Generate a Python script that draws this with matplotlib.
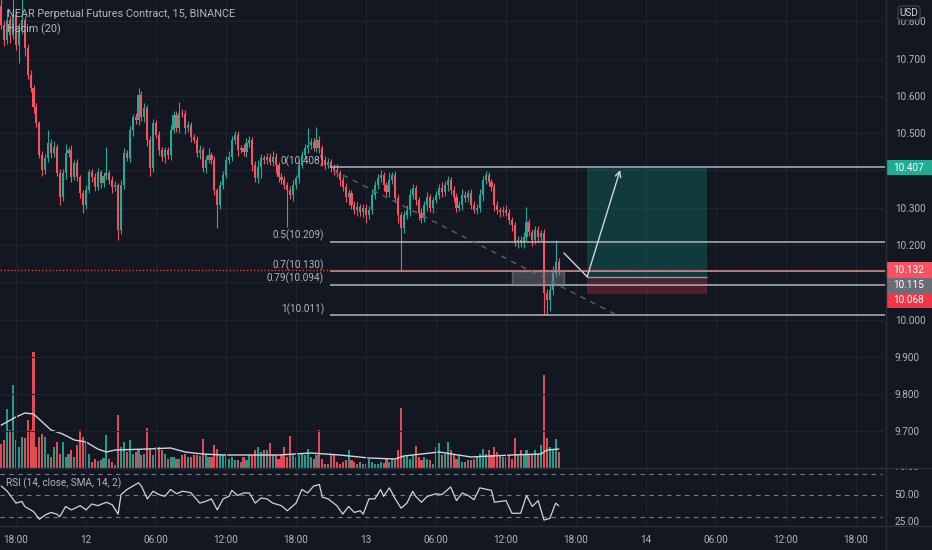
import matplotlib
matplotlib.use("Agg")
import matplotlib.pyplot as plt
from matplotlib.patches import Rectangle, FancyBboxPatch
from matplotlib.lines import Line2D
from matplotlib.transforms import blended_transform_factory
import numpy as np

plt.rcParams['font.family'] = ['Roboto', 'DejaVu Sans']

# 15 minute candles, index 0 = 11th 18:00
first_idx = -5
first_open = 10.84
closes = [
    10.790, 10.749, 10.803, 10.763, 10.816, 10.736, 10.776, 10.803, 10.728, 10.656, 10.621, 10.570, 10.527, 10.441, 10.401, 10.433,
    10.473, 10.446, 10.463, 10.393, 10.328, 10.393, 10.446, 10.454, 10.382, 10.420, 10.382, 10.339, 10.307, 10.347, 10.395, 10.382,
    10.355, 10.395, 10.366, 10.385, 10.393, 10.374, 10.355, 10.361, 10.240, 10.361, 10.446, 10.433, 10.508, 10.543, 10.535, 10.602,
    10.543, 10.567, 10.481, 10.406, 10.527, 10.495, 10.454, 10.436, 10.454, 10.441, 10.508, 10.548, 10.513, 10.554, 10.552, 10.513,
    10.521, 10.489, 10.481, 10.446, 10.454, 10.406, 10.428, 10.441, 10.428, 10.347, 10.307, 10.361, 10.387, 10.428, 10.436, 10.481,
    10.495, 10.454, 10.460, 10.449, 10.473, 10.481, 10.414, 10.379, 10.409, 10.433, 10.428, 10.436, 10.422, 10.436, 10.414, 10.382,
    10.374, 10.361, 10.347, 10.334, 10.361, 10.379, 10.414, 10.441, 10.460, 10.468, 10.476, 10.460, 10.481, 10.460, 10.428, 10.414,
    10.422, 10.406, 10.401, 10.393, 10.374, 10.355, 10.328, 10.339, 10.307, 10.294, 10.302, 10.288, 10.299, 10.280, 10.294, 10.334,
    10.361, 10.379, 10.387, 10.361, 10.342, 10.374, 10.387, 10.326, 10.280, 10.245, 10.280, 10.294, 10.334, 10.353, 10.320, 10.286,
    10.272, 10.307, 10.328, 10.299, 10.320, 10.334, 10.353, 10.342, 10.361, 10.374, 10.347, 10.328, 10.299, 10.307, 10.334, 10.326,
    10.339, 10.307, 10.294, 10.299, 10.334, 10.374, 10.387, 10.369, 10.355, 10.307, 10.294, 10.288, 10.294, 10.286, 10.267, 10.253,
    10.208, 10.213, 10.205, 10.221, 10.261, 10.235, 10.213, 10.240, 10.221, 10.232, 10.071, 10.052, 10.079, 10.125, 10.154, 10.132,
]
upper_wick = [
    0.02, 0.01, 0.03, 0.01, 0.08, 0.01, 0.02, 0.06, 0.01, 0.01, 0.012, 0.008, 0.01, 0.005, 0.01, 0.012,
    0.035, 0.01, 0.015, 0.008, 0.01, 0.012, 0.025, 0.01, 0.015, 0.008, 0.01, 0.006, 0.008, 0.015, 0.01, 0.008,
    0.01, 0.012, 0.006, 0.01, 0.07, 0.008, 0.01, 0.01, 0.006, 0.012, 0.015, 0.01, 0.012, 0.008, 0.01, 0.019,
    0.01, 0.015, 0.008, 0.01, 0.01, 0.008, 0.012, 0.01, 0.008, 0.01, 0.015, 0.012, 0.01, 0.03, 0.01, 0.01,
    0.012, 0.008, 0.01, 0.01, 0.015, 0.008, 0.012, 0.02, 0.008, 0.01, 0.006, 0.01, 0.012, 0.01, 0.015, 0.01,
    0.012, 0.01, 0.008, 0.01, 0.015, 0.012, 0.008, 0.01, 0.02, 0.01, 0.008, 0.012, 0.01, 0.015, 0.01, 0.008,
    0.01, 0.012, 0.008, 0.01, 0.012, 0.01, 0.015, 0.01, 0.012, 0.045, 0.01, 0.012, 0.035, 0.01, 0.008, 0.01,
    0.012, 0.008, 0.01, 0.015, 0.008, 0.01, 0.012, 0.01, 0.008, 0.01, 0.012, 0.008, 0.01, 0.012, 0.01, 0.015,
    0.01, 0.012, 0.015, 0.01, 0.008, 0.021, 0.01, 0.012, 0.01, 0.008, 0.01, 0.012, 0.015, 0.01, 0.008, 0.01,
    0.012, 0.01, 0.015, 0.008, 0.01, 0.012, 0.01, 0.015, 0.01, 0.012, 0.008, 0.01, 0.012, 0.01, 0.015, 0.01,
    0.008, 0.01, 0.012, 0.01, 0.015, 0.012, 0.012, 0.01, 0.008, 0.01, 0.012, 0.008, 0.01, 0.012, 0.01, 0.008,
    0.01, 0.012, 0.01, 0.015, 0.041, 0.01, 0.008, 0.012, 0.01, 0.008, 0.01, 0.012, 0.015, 0.02, 0.059, 0.01,
]
lower_wick = [
    0.01, 0.015, 0.01, 0.02, 0.01, 0.012, 0.048, 0.01, 0.02, 0.01, 0.012, 0.015, 0.01, 0.008, 0.015, 0.01,
    0.01, 0.012, 0.01, 0.008, 0.02, 0.01, 0.015, 0.01, 0.012, 0.008, 0.01, 0.012, 0.021, 0.01, 0.008, 0.012,
    0.01, 0.008, 0.012, 0.01, 0.008, 0.01, 0.015, 0.01, 0.027, 0.01, 0.012, 0.008, 0.01, 0.015, 0.01, 0.012,
    0.01, 0.012, 0.015, 0.02, 0.01, 0.008, 0.012, 0.01, 0.015, 0.01, 0.012, 0.008, 0.01, 0.012, 0.01, 0.015,
    0.01, 0.012, 0.008, 0.01, 0.015, 0.01, 0.012, 0.008, 0.01, 0.012, 0.062, 0.01, 0.012, 0.008, 0.01, 0.012,
    0.01, 0.015, 0.008, 0.01, 0.012, 0.01, 0.015, 0.01, 0.012, 0.03, 0.01, 0.012, 0.008, 0.01, 0.02, 0.012,
    0.01, 0.012, 0.10, 0.01, 0.015, 0.01, 0.012, 0.008, 0.01, 0.012, 0.01, 0.008, 0.01, 0.012, 0.015, 0.01,
    0.008, 0.01, 0.012, 0.01, 0.015, 0.01, 0.012, 0.02, 0.01, 0.012, 0.015, 0.01, 0.012, 0.02, 0.01, 0.012,
    0.01, 0.012, 0.01, 0.015, 0.01, 0.012, 0.01, 0.008, 0.02, 0.112, 0.012, 0.01, 0.015, 0.01, 0.012, 0.02,
    0.012, 0.01, 0.015, 0.01, 0.012, 0.008, 0.01, 0.012, 0.01, 0.015, 0.01, 0.012, 0.01, 0.008, 0.012, 0.01,
    0.012, 0.01, 0.008, 0.012, 0.01, 0.015, 0.01, 0.012, 0.01, 0.015, 0.01, 0.012, 0.01, 0.008, 0.012, 0.015,
    0.012, 0.015, 0.01, 0.012, 0.01, 0.012, 0.015, 0.01, 0.012, 0.01, 0.059, 0.04, 0.03, 0.012, 0.01, 0.012,
]
# volume in thousands
volume = [
    24, 28, 59, 38, 83, 28, 21, 31, 30, 48, 38, 116, 21, 31, 34, 31,
    14, 11, 21, 26, 14, 26, 11, 14, 18, 11, 23, 38, 31, 26, 14, 6,
    9, 7, 8, 10, 33, 9, 6, 3, 53, 21, 26, 16, 28, 14, 16, 18,
    13, 14, 40, 19, 13, 21, 21, 18, 14, 9, 11, 11, 9, 9, 13, 14,
    11, 11, 13, 13, 12, 29, 14, 11, 11, 23, 19, 14, 13, 14, 9, 11,
    8, 8, 6, 11, 8, 13, 13, 18, 21, 16, 18, 18, 25, 13, 13, 9,
    13, 21, 11, 32, 13, 11, 13, 14, 13, 19, 11, 9, 13, 38, 9, 4,
    4, 13, 13, 6, 4, 6, 8, 18, 8, 6, 4, 6, 4, 4, 9, 6,
    4, 4, 6, 5, 9, 6, 9, 8, 18, 60, 11, 13, 9, 13, 22, 11,
    8, 11, 9, 8, 4, 21, 25, 13, 14, 26, 18, 13, 9, 13, 6, 6,
    8, 8, 9, 11, 14, 19, 14, 18, 13, 21, 16, 13, 11, 11, 13, 9,
    30, 13, 18, 13, 18, 14, 13, 18, 14, 23, 93, 30, 21, 19, 29, 16,
]
# Hacim (20) average, read at some bars
vol_ma_idx = [-5, 0, 3, 6, 9, 12, 16, 20, 24, 28, 31, 34, 45, 53, 58, 64, 71, 90, 101,
              111, 121, 130, 133, 145, 156, 170, 180, 182, 186]
vol_ma = [43, 51, 55, 54, 46, 38, 34, 28, 26, 19, 16, 18, 19, 20, 16, 14, 13, 13, 15,
          13, 10, 9, 12, 16, 11, 13, 14, 18, 19]
# RSI (14)
rsi_idx = [-5, -3, 0, 2, 3, 6, 8, 10, 12, 14, 15, 17, 19, 22, 24, 26, 28, 31, 33, 35,
           36, 38, 40, 42, 43, 45, 47, 49, 51, 53, 55, 57, 59, 60, 63, 65, 67, 69, 71, 73,
           74, 76, 78, 80, 82, 84, 86, 88, 91, 93, 96, 98, 100, 102, 104, 105, 107, 110, 112, 114,
           116, 118, 119, 121, 123, 125, 126, 128, 130, 132, 134, 136, 137, 139, 141, 144, 146, 149, 151, 153,
           155, 157, 159, 163, 164, 168, 170, 173, 175, 177, 179, 181, 183, 185, 186]
rsi_val = [61, 55, 41, 43, 37, 31, 22, 27, 30, 28, 25, 37, 33, 38, 33, 40, 38, 42, 39, 28,
           51, 57, 61, 65, 61, 46, 55, 51, 49, 57, 52, 55, 54, 53, 41, 43, 46, 33, 46, 49,
           56, 50, 53, 53, 41, 47, 46, 41, 38, 32, 41, 57, 53, 61, 63, 48, 46, 38, 28, 37,
           30, 32, 28, 46, 46, 57, 49, 59, 46, 35, 41, 55, 49, 42, 49, 52, 51, 60, 44, 53,
           50, 45, 59, 56, 42, 44, 29, 29, 50, 37, 44, 21, 23, 41, 38]

time_ticks = [0, 24, 48, 72, 96, 120, 144, 168, 192, 216, 240, 264, 288]
time_labels = ['18:00', '12', '06:00', '12:00', '18:00', '13', '06:00', '12:00',
               '18:00', '14', '06:00', '12:00', '18:00']
price_ticks = [9.7, 9.8, 9.9, 10.0, 10.1, 10.2, 10.3, 10.4, 10.5, 10.6, 10.7, 10.8]
# labels hidden by the price tags
price_hidden = [10.1, 10.4]

# drawings
fib_names = ['0', '0.5', '0.7', '0.79', '1']
fib_prices = [10.408, 10.209, 10.130, 10.094, 10.011]
fib_start = 107.5
entry, target, stop = 10.115, 10.407, 10.068
pos_start, pos_end = 195.8, 236.9
zone_start, zone_end = 170.0, 187.9
zone_top, zone_bottom = 10.130, 10.094
trend_idx = [108.7, 206.0]
trend_price = [10.401, 10.012]
arrow_idx = [187.9, 195.8, 207.1]
arrow_price = [10.178, 10.115, 10.401]
last_price = 10.132
tag_text = ['10.407', '10.132', '10.115', '10.068']
tag_price = [10.407, 10.133, 10.092, 10.052]
tag_color = ['#22ab94', '#f7525f', '#6a6d78', '#f23645']

BG = '#131722'
GRID = '#1e222d'
TXT = '#b2b5be'
UP = '#22ab94'
DOWN = '#f7525f'
LINE = '#b2b5be'

W, H = 932, 550
XMIN, XMAX = -5.49, 297.9


def rect(x0, y0, x1, y1):
    return [x0 / W, 1 - y1 / H, (x1 - x0) / W, (y1 - y0) / H]


fig = plt.figure(figsize=(W / 100, H / 100), dpi=100, facecolor=BG)

idx = np.arange(first_idx, first_idx + len(closes))
closes = np.array(closes)
opens = np.r_[first_open, closes[:-1]]
highs = np.maximum(opens, closes) + np.array(upper_wick)
lows = np.minimum(opens, closes) - np.array(lower_wick)
colors = np.where(closes >= opens, UP, DOWN)

# volume pane (under the price pane)
axv = fig.add_axes(rect(0, 0, 885, 468), facecolor=BG)
axv.bar(idx, volume, width=0.72, color=colors, linewidth=0, alpha=0.9)
axv.plot(vol_ma_idx, vol_ma, color='#d1d4dc', lw=1)
axv.set_xlim(XMIN, XMAX)
axv.set_ylim(0, 468)
axv.axis('off')

# price pane
ax = fig.add_axes(rect(0, 0, 885, 468), facecolor='none')
ax.set_xlim(XMIN, XMAX)
ax.set_ylim(9.602, 10.857)
for s in ax.spines.values():
    s.set_visible(False)
ax.set_xticks(time_ticks)
ax.set_yticks(price_ticks)
ax.set_yticklabels(['' if p in price_hidden else f'{p:.3f}' for p in price_ticks])
ax.yaxis.tick_right()
ax.tick_params(axis='y', length=0, pad=7, labelsize=7.2, labelcolor=TXT)
ax.tick_params(axis='x', length=0, labelbottom=False)
ax.grid(True, color=GRID, lw=0.8)
ax.set_axisbelow(True)

ax.vlines(idx, lows, highs, colors=colors, lw=0.8, zorder=3)
ax.bar(idx, np.maximum(np.abs(closes - opens), 0.002), bottom=np.minimum(opens, closes),
       width=0.72, color=colors, linewidth=0, zorder=4)

# long position tool
ax.add_patch(Rectangle((pos_start, entry), pos_end - pos_start, target - entry,
                       facecolor='#089981', alpha=0.27, lw=0, zorder=1))
ax.add_patch(Rectangle((pos_start, stop), pos_end - pos_start, entry - stop,
                       facecolor='#f23645', alpha=0.27, lw=0, zorder=1))
ax.hlines(entry, pos_start, pos_end, color='#9598a1', lw=1, zorder=2)

# fib levels
ax.hlines(fib_prices, fib_start, XMAX, color=LINE, lw=1.1, zorder=5)
for name, p in zip(fib_names, fib_prices):
    ax.text(fib_start - 1.9, p + 0.016, f'{name}({p:.3f})', color=TXT, fontsize=7.2,
            ha='right', va='center', zorder=6)

# order block
ax.add_patch(Rectangle((zone_start, zone_bottom), zone_end - zone_start, zone_top - zone_bottom,
                       facecolor='#787b86', alpha=0.45, edgecolor='#9598a1', lw=1, zorder=5))

ax.plot(trend_idx, trend_price, color='#5d606b', lw=1, ls=(0, (4, 4)), zorder=5)
ax.plot(arrow_idx[:2], arrow_price[:2], color='#d1d4dc', lw=1, zorder=6)
ax.annotate('', xy=(arrow_idx[2], arrow_price[2]), xytext=(arrow_idx[1], arrow_price[1]),
            arrowprops=dict(arrowstyle='->', color='#d1d4dc', lw=1, shrinkA=0, shrinkB=0,
                            mutation_scale=10), zorder=6)
ax.axhline(last_price, color='#f23645', lw=1, ls=(0, (1, 1.5)), zorder=6)

# price tags on the right scale
tr = blended_transform_factory(ax.transAxes, ax.transData)
for t, p, c in zip(tag_text, tag_price, tag_color):
    ax.add_patch(Rectangle((1.001, p - 0.0202), 46 / 885, 0.0404, transform=tr,
                           facecolor=c, lw=0, clip_on=False, zorder=8))
    ax.text(1 + 23.5 / 885, p, t, transform=tr, color='white', fontsize=7.2,
            ha='center', va='center', clip_on=False, zorder=9)

# RSI pane
axr = fig.add_axes(rect(0, 468, 885, 525.5), facecolor=BG)
axr.set_xlim(XMIN, XMAX)
axr.set_ylim(14.6, 82.4)
for s in axr.spines.values():
    s.set_visible(False)
axr.set_xticks(time_ticks)
axr.set_xticklabels(time_labels)
axr.set_yticks([])
axr.tick_params(axis='x', length=0, pad=7, labelsize=7.2, labelcolor=TXT)
axr.grid(True, axis='x', color=GRID, lw=0.8)
axr.set_axisbelow(True)
for lvl in [25, 50, 75]:
    axr.axhline(lvl, color='#787b86', lw=0.8, ls=(0, (4, 4)), xmax=0.997)
axr.plot(rsi_idx, rsi_val, color='#d1d4dc', lw=0.9)
axr.text(6 / 885, 64.7, 'RSI (14, close, SMA, 14, 2)', transform=blended_transform_factory(axr.transAxes, axr.transData),
         color=TXT, fontsize=7.2, ha='left', va='center')

# RSI scale
axs = fig.add_axes(rect(886, 468, 932, 525.5), facecolor=BG)
axs.set_ylim(14.6, 82.4)
axs.set_xlim(0, 1)
axs.axis('off')
for v, lab in [(83.3, '75.00'), (50, '50.00'), (18.4, '25.00')]:
    axs.text(0.18, v, lab, color=TXT, fontsize=7.2, ha='left', va='center', clip_on=True)

# separators
for (x0, y0, x1, y1) in [(0, 468, W, 468), (0, 525.5, W, 525.5), (885.5, 0, 885.5, H)]:
    fig.add_artist(Line2D([x0 / W, x1 / W], [1 - y0 / H, 1 - y1 / H], transform=fig.transFigure,
                          color='#2a2e39', lw=1))

# USD box
fig.add_artist(FancyBboxPatch((898 / W, 1 - 20 / H), 22 / W, 14 / H,
                              boxstyle='round,pad=0,rounding_size=0.004', transform=fig.transFigure,
                              facecolor=BG, edgecolor='#434651', lw=0.8, zorder=10))
fig.text(909 / W, 1 - 13 / H, 'USD', color='#d1d4dc', fontsize=7.2, ha='center', va='center', zorder=11)

fig.text(7 / W, 1 - 14 / H, 'NEAR Perpetual Futures Contract, 15, BINANCE', color=TXT,
         fontsize=7.8, ha='left', va='center')
fig.text(7 / W, 1 - 29 / H, 'Hacim (20)', color=TXT, fontsize=7.8, ha='left', va='center')

fig.savefig('out.png', dpi=100, facecolor=BG)
